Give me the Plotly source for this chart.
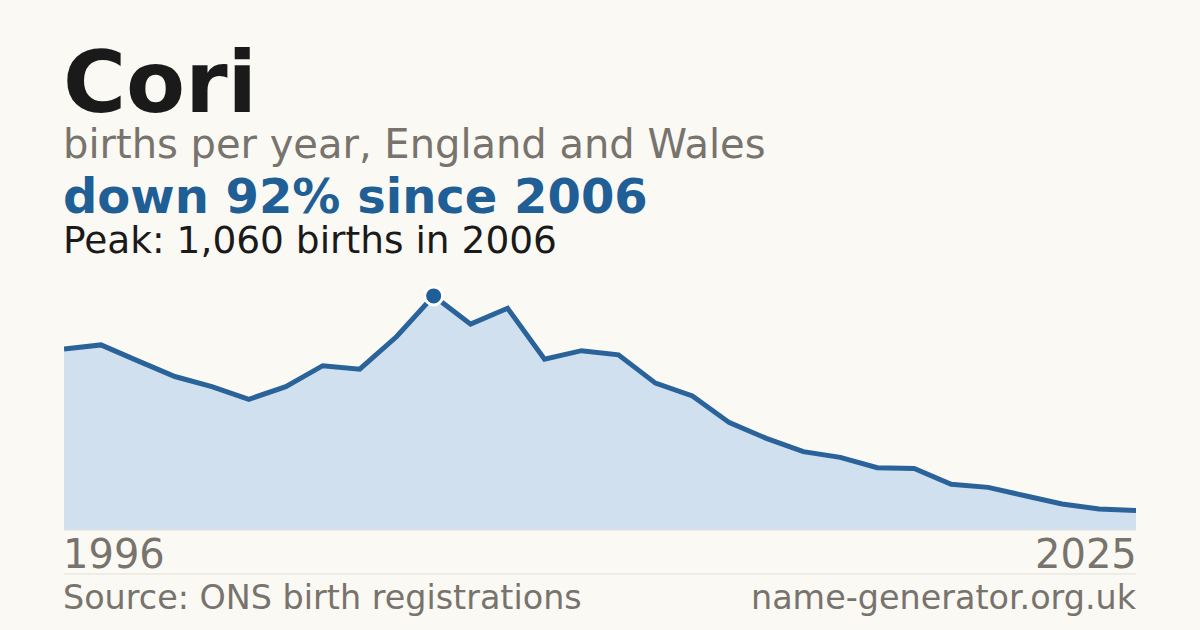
import plotly.graph_objects as go

years = list(range(1996, 2026))
births = [820, 838, 766, 695, 649, 592, 649, 744, 728, 876,
          1060, 932, 1004, 773, 812, 793, 665, 607, 486, 415,
          355, 329, 282, 279, 207, 193, 155, 118, 95, 88]

peak_year = 2006
peak_value = 1060

BG = "#faf9f4"
BLUE = "#1f5f96"
GREY = "#78736c"

# plot area in pixels: x 64..1136, y 280..530
def py(pix):
    return (530 - pix) / 250


fig = go.Figure()
fig.add_trace(go.Scatter(
    x=years, y=births, mode="lines",
    line=dict(color="#2a6399", width=5),
    fill="tozeroy", fillcolor="#d0e0ef",
    hoverinfo="skip",
))
fig.add_trace(go.Scatter(
    x=[peak_year], y=[peak_value], mode="markers",
    marker=dict(size=18, color=BLUE, line=dict(color="white", width=3)),
    hoverinfo="skip",
))

font = "DejaVu Sans"
left, right = -3 / 1072, 1 + 3 / 1072
texts = [
    dict(text="<b>Cori</b>", y=82, size=86, color="#1a1a1a", x=left, xanchor="left"),
    dict(text="births per year, England and Wales", y=144, size=40, color=GREY, x=left, xanchor="left"),
    dict(text="<b>down 92% since 2006</b>", y=196, size=48, color=BLUE, x=left, xanchor="left"),
    dict(text="Peak: 1,060 births in 2006", y=240, size=37.5, color="#1a1a1a", x=left, xanchor="left"),
    dict(text=str(years[0]), y=554, size=40, color=GREY, x=left, xanchor="left"),
    dict(text=str(years[-1]), y=554, size=40, color=GREY, x=right, xanchor="right"),
    dict(text="Source: ONS birth registrations", y=597, size=33.4, color=GREY, x=left, xanchor="left"),
    dict(text="name-generator.org.uk", y=597, size=33.4, color=GREY, x=right, xanchor="right"),
]
for t in texts:
    fig.add_annotation(
        text=t["text"], xref="paper", yref="paper", x=t["x"], y=py(t["y"]),
        xanchor=t["xanchor"], yanchor="middle", showarrow=False,
        font=dict(family=font, size=t["size"], color=t["color"]),
    )

fig.add_shape(type="line", xref="paper", yref="paper", x0=0, x1=1,
              y0=py(574), y1=py(574), line=dict(color="#e2dfd8", width=1))

fig.update_xaxes(range=[years[0], years[-1]], visible=False)
fig.update_yaxes(range=[0, 1132], visible=False)
fig.add_shape(type="line", xref="paper", yref="paper", x0=0, x1=1,
              y0=0, y1=0, line=dict(color="#e2dfd8", width=1))

fig.update_layout(
    width=1200, height=630,
    margin=dict(l=64, r=64, t=280, b=100),
    paper_bgcolor=BG, plot_bgcolor=BG,
    showlegend=False,
)

fig.write_html("out.html", config={"displayModeBar": False},
               post_script="document.body.style.margin='0';")
